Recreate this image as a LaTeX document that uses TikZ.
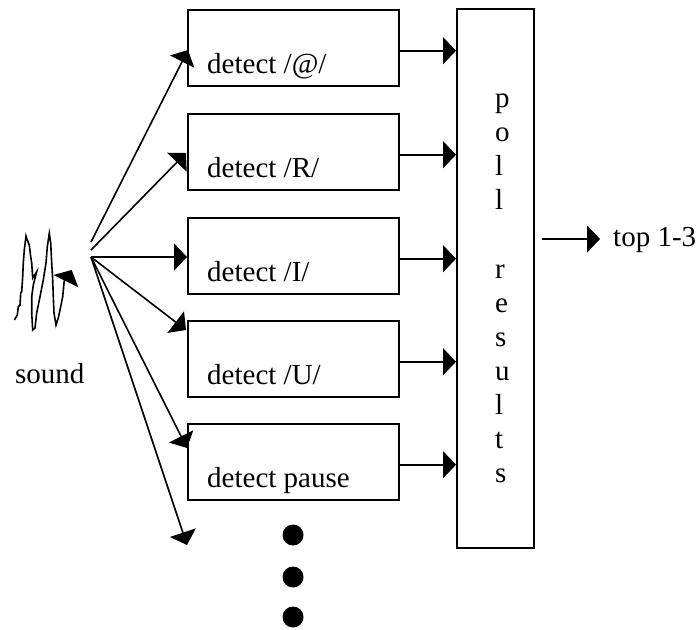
\documentclass[tikz,border=0pt]{standalone}
\usepackage{fontspec}
\setmainfont{Liberation Serif}
\usetikzlibrary{arrows.meta}
\begin{document}
\begin{tikzpicture}[x=1pt,y=-1pt,
  box/.style={draw,line width=2.4pt,minimum width=211pt,minimum height=76pt,anchor=north west,inner sep=0pt},
  pollbox/.style={draw,line width=1.7pt,minimum width=77pt,minimum height=539pt,anchor=north west,inner sep=0pt},
  lbl/.style={anchor=base west,inner sep=0pt,font=\fontsize{29}{34}\selectfont},
  arr/.style={line width=1.6pt,-{Triangle[length=13pt,width=27pt]}},
  wave/.style={line width=1.6pt,line join=miter},
  blob/.style={circle,fill,minimum size=21pt,inner sep=0pt}]
\useasboundingbox (0,0) rectangle (698,629);

% detector boxes
\node[box] (b1) at (187,9) {};
\node[box] (b2) at (187,113) {};
\node[box] (b3) at (187,217) {};
\node[box] (b4) at (187,320) {};
\node[box] (b5) at (187,423) {};
\node[lbl] (t1lbl) at (207,73) {detect /@/};
\node[lbl] (t2lbl) at (207,177) {detect /R/};
\node[lbl] (t3lbl) at (207,281) {detect /I/};
\node[lbl] (t4lbl) at (207,384) {detect /U/};
\node[lbl] (t5lbl) at (207,487) {detect pause};

% poll box
\node[pollbox] (poll) at (456,8) {};
\foreach \c/\i in {p/0,o/1,l/2,l/3,r/5,e/6,s/7,u/8,l/9,t/10,s/11}
  \node[lbl] (pl\i) at (495,{107.5+34.1*\i}) {\c};

% box -> poll arrows
\foreach \k in {1,...,5}{
  \path ([yshift=-2.5pt]b\k.east) coordinate (o\k);
  \draw[arr] (o\k) -- (o\k -| poll.west);
}

% output
\coordinate (outs) at (542,239);
\coordinate (oute) at (600,239);
\draw[arr] (outs) -- (oute);
\node[lbl] (top) at (613,246) {top 1-3};

% sound
\node[lbl] (sound) at (15,383) {sound};
\draw[wave] (14.3,320) -- (17.3,315) -- (18.3,306.7) -- (20,305) -- (20.7,293) -- (21.7,291.7)
  -- (22.7,276.7) -- (23.3,263) -- (24.3,250) -- (26,236) -- (27.3,240) -- (29.3,245)
  -- (30.7,256.7) -- (31.7,263) -- (32.7,278) -- (36.7,271.7) -- (33.3,285) -- (31.7,296.7)
  -- (31.7,313) -- (32.7,330) -- (35,328) -- (36.7,313) -- (40,296.7) -- (43.3,280)
  -- (46,263) -- (47.3,246.7) -- (49.3,233.3) -- (50.7,243) -- (51.7,263) -- (52.7,280)
  -- (53.3,296.7) -- (54,313) -- (56,325) -- (58.3,318) -- (60,310) -- (62.7,296.7)
  -- (64,283) -- (65,276.7);
\fill (53.3,275) -- (71.7,270) -- (78.3,287.3) -- cycle;

% fan
\coordinate (s1) at (91,242);
\coordinate (s2) at (91,250);
\coordinate (s0) at (91,257);
\coordinate (f1) at (188,50);
\coordinate (f2) at (186,153);
\coordinate (f3) at (187,257);
\coordinate (f4) at (186,330);
\coordinate (f5) at (187,448);
\coordinate (f6) at (187,545);
\draw[arr] (s1) -- (f1);
\draw[arr] (s2) -- (f2);
\draw[arr] (s0) -- (f3);
\draw[arr] (s0) -- (f4);
\draw[arr] (s0) -- (f5);
\draw[arr] (s0) -- (f6);

% dots
\node[blob] (d1) at (293,535) {};
\node[blob] (d2) at (293,577) {};
\node[blob] (d3) at (293,617) {};
\end{tikzpicture}
\end{document}
